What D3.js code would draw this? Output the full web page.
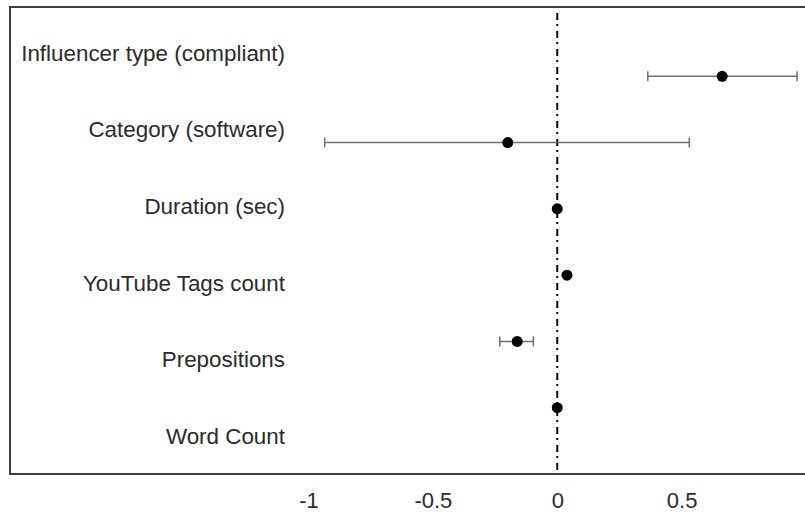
<!DOCTYPE html>
<html>
<head>
<meta charset="utf-8">
<script src="https://cdn.jsdelivr.net/npm/d3@7"></script>
<style>
  html, body { margin: 0; padding: 0; background: #fff; }
  svg { display: block; font-family: "Liberation Sans", Arial, sans-serif; }
</style>
</head>
<body>
<svg id="chart" width="805" height="512"></svg>
<script>
// Predictors, top to bottom
const predictors = [
  "Influencer type (compliant)",
  "Category (software)",
  "Duration (sec)",
  "YouTube Tags count",
  "Prepositions",
  "Word Count"
];
// Point estimates and confidence bounds
const estimates = [0.663, -0.199, 0.0, 0.039, -0.161, 0.0];
const lowerCI   = [0.364, -0.935, 0.0, 0.039, -0.231, 0.0];
const upperCI   = [0.964,  0.531, 0.0, 0.039, -0.096, 0.0];
// Axis ticks
const tickValues = [-1, -0.5, 0, 0.5];
const tickLabels = ["-1", "-0.5", "0", "0.5"];

const rows = predictors.map((name, i) => ({
  name, est: estimates[i], lo: lowerCI[i], hi: upperCI[i]
}));

const svg = d3.select("#chart");
const box = { left: 10, right: 806, top: 7, bottom: 474 };

const x = d3.scaleLinear().domain([-2.2, 1.0]).range([box.left, box.right]);
const yMark = d3.scalePoint().domain(predictors).range([box.top + 3, box.bottom]).padding(1.0);
const yLabel = d3.scalePoint().domain(predictors).range([box.top + 5, box.bottom + 3]).padding(0.53);

// Frame
svg.append("rect")
  .attr("x", box.left).attr("y", box.top)
  .attr("width", box.right - box.left).attr("height", box.bottom - box.top)
  .attr("fill", "none").attr("stroke", "#404040").attr("stroke-width", 2);

// Reference line at zero
svg.append("line")
  .attr("x1", x(0)).attr("x2", x(0))
  .attr("y1", box.top + 6).attr("y2", box.bottom)
  .attr("stroke", "#000").attr("stroke-width", 2)
  .attr("stroke-dasharray", "7,4,2,5");

// Predictor labels
svg.append("g").selectAll("text")
  .data(rows).join("text")
  .attr("x", 285)
  .attr("y", d => yLabel(d.name))
  .attr("dy", "0.35em")
  .attr("text-anchor", "end")
  .attr("font-size", 22.4)
  .attr("fill", "#2b2b2b")
  .text(d => d.name);

// Confidence intervals
const ci = svg.append("g").attr("stroke", "#707070").attr("stroke-width", 1.5)
  .selectAll("g").data(rows.filter(d => d.hi > d.lo)).join("g");
ci.append("line")
  .attr("x1", d => x(d.lo)).attr("x2", d => x(d.hi))
  .attr("y1", d => yMark(d.name)).attr("y2", d => yMark(d.name));
ci.append("line")
  .attr("x1", d => x(d.lo)).attr("x2", d => x(d.lo))
  .attr("y1", d => yMark(d.name) - 5).attr("y2", d => yMark(d.name) + 5);
ci.append("line")
  .attr("x1", d => x(d.hi)).attr("x2", d => x(d.hi))
  .attr("y1", d => yMark(d.name) - 5).attr("y2", d => yMark(d.name) + 5);

// Point estimates
svg.append("g").selectAll("circle")
  .data(rows).join("circle")
  .attr("cx", d => x(d.est))
  .attr("cy", d => yMark(d.name))
  .attr("r", 5.5)
  .attr("fill", "#000");

// X axis labels
const axis = d3.axisBottom(x)
  .tickValues(tickValues)
  .tickFormat((d, i) => tickLabels[i])
  .tickSize(0)
  .tickPadding(18);
const gAxis = svg.append("g")
  .attr("transform", `translate(0,${box.bottom})`)
  .call(axis);
gAxis.select(".domain").remove();
gAxis.selectAll("text")
  .attr("font-size", 22)
  .attr("font-family", "\"Liberation Sans\", Arial, sans-serif")
  .attr("fill", "#2b2b2b");
</script>
</body>
</html>
